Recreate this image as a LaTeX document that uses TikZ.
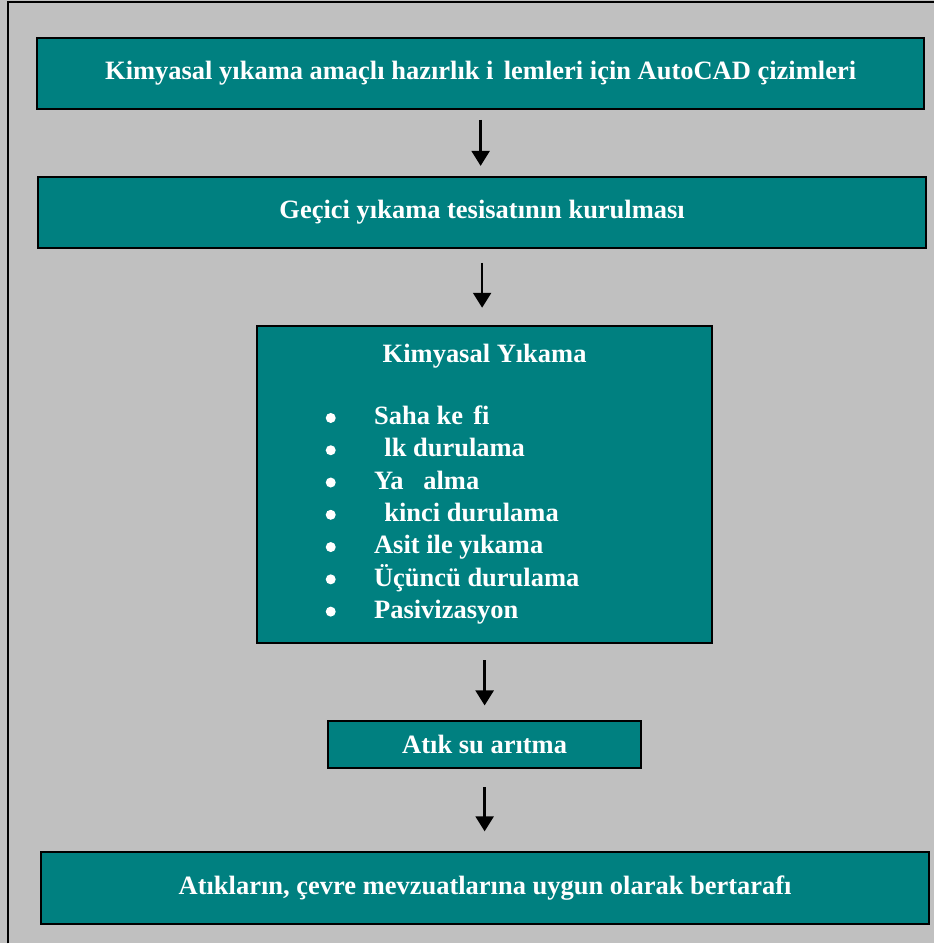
\documentclass[tikz,border=0pt]{standalone}
\usepackage{fontspec}
\setmainfont{Liberation Serif}
\usetikzlibrary{arrows.meta}
\definecolor{boxteal}{HTML}{008080}
\definecolor{pagegray}{HTML}{C0C0C0}

\begin{document}
\begin{tikzpicture}[x=0.5pt,y=-0.5pt,
  stage/.style={draw=black, line width=1pt, fill=boxteal, text=white,
    font=\fontsize{13.25}{16}\selectfont\bfseries, inner sep=0pt},
  lbl/.style={text=white, font=\fontsize{13.25}{16}\selectfont\bfseries, inner sep=0pt},
  bullet/.style={circle, fill=white, inner sep=0pt, minimum size=5pt},
  flow/.style={-{Triangle[width=9pt,length=7.5pt]}, line width=1.2pt}]

% background and frame
\fill[pagegray] (0,0) rectangle (935,944);
\draw[line width=0.75pt] (8,944) -- (8,2) -- (935,2);

% stages
\node[stage, minimum width=444pt, minimum height=35.5pt] (plan) at (481,73.5)
  {Kimyasal yıkama amaçlı hazırlık i\phantom{ş}lemleri için AutoCAD çizimleri};
\node[stage, minimum width=444.5pt, minimum height=35.5pt] (setup) at (482.5,212.5)
  {Geçici yıkama tesisatının kurulması};
\node[stage, minimum width=228pt, minimum height=159pt] (wash) at (485,485) {};
\node[stage, minimum width=157pt, minimum height=23.5pt] (treat) at (485,745.5)
  {Atık su arıtma};
\node[stage, minimum width=444.5pt, minimum height=36pt] (dispose) at (485.5,889)
  {Atıkların, çevre mevzuatlarına uygun olarak bertarafı};

% contents of the washing box
\node[lbl, anchor=base] (washtitle) at (485,362.7) {Kimyasal Yıkama};
\foreach \txt [count=\n] in {{Saha ke\phantom{ş}fi}, {\phantom{İ}lk durulama},
    {Ya\phantom{ğ} alma}, {\phantom{İ}kinci durulama}, {Asit ile yıkama},
    {Üçüncü durulama}, {Pasivizasyon}} {
  \node[bullet] (dot\n) at (331,{418.3+(\n-1)*32.3}) {};
  \node[lbl, anchor=base west] (step\n) at (374,{425+(\n-1)*32.3}) {\txt};
}

% arrows
\foreach \from/\to/\s/\e in {plan/setup/5pt/5pt, setup/wash/7pt/8.5pt,
    wash/treat/8pt/7.5pt, treat/dispose/9pt/10pt}
  \draw[flow, shorten <=\s, shorten >=\e] (\from.south) -- (\from.south |- \to.north);

\end{tikzpicture}
\end{document}
